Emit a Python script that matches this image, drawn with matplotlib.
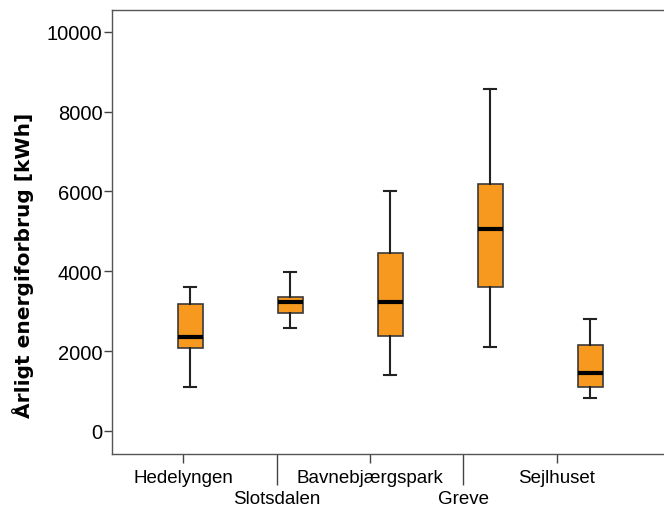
"Boxplot of annual energy consumption per site"

import matplotlib
matplotlib.use("Agg")
import matplotlib.pyplot as plt

plt.rcParams["font.family"] = ["Liberation Sans", "DejaVu Sans"]

###################
# five-number summaries per site (kWh)
sites = ["Hedelyngen", "Slotsdalen", "Bavnebjærgspark", "Greve", "Sejlhuset"]
whisker_low = [1100, 2580, 1400, 2100, 820]
quart_low = [2070, 2950, 2380, 3600, 1100]
medians = [2360, 3230, 3220, 5070, 1450]
quart_high = [3180, 3350, 4450, 6180, 2150]
whisker_high = [3600, 3970, 6020, 8570, 2800]

stats = []
for i in range(len(sites)):
    stats.append({
        "label": sites[i],
        "whislo": whisker_low[i],
        "q1": quart_low[i],
        "med": medians[i],
        "q3": quart_high[i],
        "whishi": whisker_high[i],
        "fliers": [],
    })

fig = plt.figure(figsize=(6.64, 5.10), dpi=100)
ax = fig.add_axes([0.1687, 0.1088, 0.8313, 0.8696])

positions = list(range(1, len(sites) + 1))
ax.bxp(stats, positions=positions, widths=0.25, patch_artist=True,
       showfliers=False,
       boxprops=dict(facecolor="#F7991F", edgecolor="#3a3a3a", linewidth=1.2),
       medianprops=dict(color="black", linewidth=3),
       whiskerprops=dict(color="#222222", linewidth=1.5),
       capprops=dict(color="#222222", linewidth=1.5),
       capwidths=0.125)

ax.set_xlim(0.22, 5.74)
ax.set_ylim(-570, 10550)
ax.set_yticks([0, 2000, 4000, 6000, 8000, 10000])
ax.tick_params(axis="y", labelsize=14.5, length=6, width=1, color="#444444",
               pad=1)

# category ticks sit on a slightly tighter grid than the boxes
label_pos = [0.9333 * p for p in positions]

# staggered x labels: odd sites on major ticks, even sites on long minor ticks
ax.set_xticks(label_pos[0::2])
ax.set_xticklabels(sites[0::2])
ax.set_xticks(label_pos[1::2], minor=True)
ax.set_xticklabels(sites[1::2], minor=True)
ax.tick_params(axis="x", which="major", labelsize=13.5, length=6.5,
               width=1, color="#444444", pad=5)
ax.tick_params(axis="x", which="minor", labelsize=13.5, length=22.5,
               width=1, color="#444444", pad=4)

ax.set_ylabel("Årligt energiforbrug [kWh]", fontsize=14.5, fontweight="bold",
              family="DejaVu Sans")
ax.yaxis.set_label_coords(-0.141, 0.426)

ax.spines["right"].set_visible(False)
for side in ["left", "bottom", "top"]:
    ax.spines[side].set_color("#555555")
    ax.spines[side].set_linewidth(1)

plt.savefig("out.png", dpi=100)
